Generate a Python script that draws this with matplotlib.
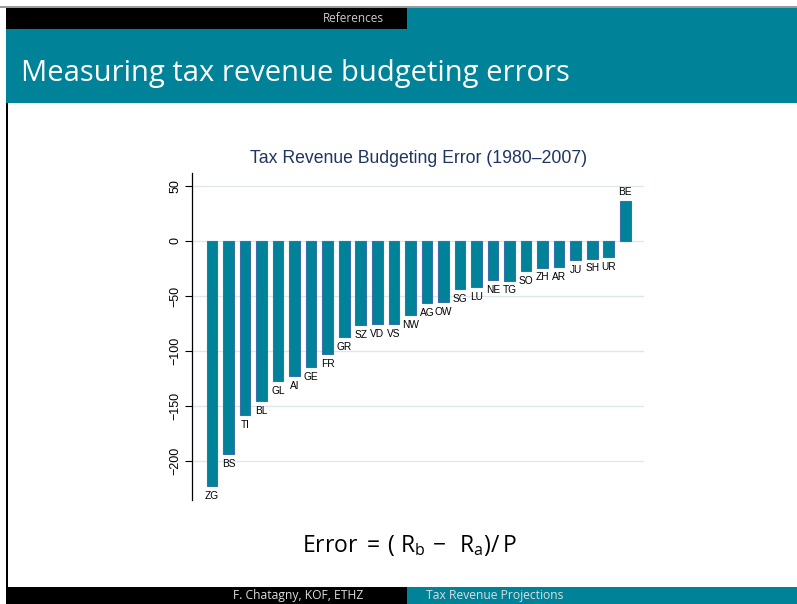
import matplotlib.pyplot as plt
from matplotlib.patches import Rectangle

# cantons sorted by budgeting error
cantons = ["ZG", "BS", "TI", "BL", "GL", "AI", "GE", "FR", "GR", "SZ", "VD", "VS", "NW",
           "AG", "OW", "SG", "LU", "NE", "TG", "SO", "ZH", "AR", "JU", "SH", "UR", "BE"]
errors = [-223, -194, -158.5, -145.5, -127, -123, -115, -103, -87, -76.7, -75.8, -75.5, -67,
          -56.4, -55.2, -44, -41.8, -35.8, -36, -27, -24.2, -24, -17.3, -16, -14.8, 36.6]
yticks = [50, 0, -50, -100, -150, -200]

teal = "#008398"

fig = plt.figure(figsize=(7.97, 6.04), dpi=100)

# slide frame: header, title band, footer
W, H = 797.0, 604.0
def box(x0, y0, x1, y1, color):
    fig.patches.append(Rectangle((x0 / W, 1 - y1 / H), (x1 - x0) / W, (y1 - y0) / H,
                                 transform=fig.transFigure, color=color, zorder=0, lw=0))

box(0, 6, 797, 8, "#9a9a9a")
box(6, 8, 407, 29, "black")
box(407, 8, 797, 29, teal)
box(6, 29, 797, 103, teal)
box(6, 103, 7.5, 587, "black")
box(6, 587, 407, 604, "black")
box(407, 587, 797, 604, teal)

fig.text(353 / W, 1 - 18 / H, "References", color="#cccccc", fontsize=8.5,
         family="Open Sans", ha="center", va="center")
fig.text(21 / W, 1 - 73 / H, "Measuring tax revenue budgeting errors", color="white",
         fontsize=21, family="Open Sans", ha="left", va="center")
fig.text(298 / W, 1 - 596 / H, "F. Chatagny, KOF, ETHZ", color="#dddddd", fontsize=8.7,
         family="Open Sans", ha="center", va="center")
fig.text(494.5 / W, 1 - 596 / H, "Tax Revenue Projections", color="#dddddd", fontsize=8.7,
         family="Open Sans", ha="center", va="center")

plt.rcParams["mathtext.fontset"] = "custom"
plt.rcParams["mathtext.rm"] = "Open Sans"
plt.rcParams["mathtext.it"] = "Open Sans"
fig.text(409 / W, 1 - 546 / H, r"Error $=\,(\;\mathrm{R_b}\,-\;\,\mathrm{R_a})/\,\mathrm{P}$",
         fontsize=16.5, family="Open Sans", ha="center", va="center")

# chart
ax = fig.add_axes([192.3 / W, 1 - 500 / H, (644 - 192.3) / W, (500 - 173) / H])
x = list(range(len(cantons)))
ax.bar(x, errors, width=0.64, color=teal, edgecolor="#3b6fae", linewidth=0.8, zorder=2)

for i, (c, v) in enumerate(zip(cantons, errors)):
    if v < 0:
        ax.annotate(c, (i, v), xytext=(0, -3.5), textcoords="offset points",
                    ha="center", va="top", fontsize=7.3, family="Liberation Sans")
    else:
        ax.annotate(c, (i, v), xytext=(0, 3), textcoords="offset points",
                    ha="center", va="bottom", fontsize=7.3, family="Liberation Sans")

ax.set_xlim(-1.19, 26.13)
ax.set_ylim(-235.5, 61.8)
ax.set_yticks(yticks)
ax.set_yticklabels([str(t).replace("-", "\u2212") for t in yticks], rotation=90,
                   va="center", fontsize=9, family="Liberation Sans")
ax.set_xticks([])
ax.grid(axis="y", color="#dde7ec", linewidth=1, zorder=0)
for s in ["top", "right", "bottom"]:
    ax.spines[s].set_visible(False)
ax.spines["left"].set_linewidth(0.9)
ax.tick_params(axis="y", length=5, width=0.8, pad=3)
ax.set_title("Tax Revenue Budgeting Error (1980\u20132007)", fontsize=12.7,
             family="Liberation Sans", color="#1f3560", pad=7)

fig.savefig("out.png", dpi=100)
